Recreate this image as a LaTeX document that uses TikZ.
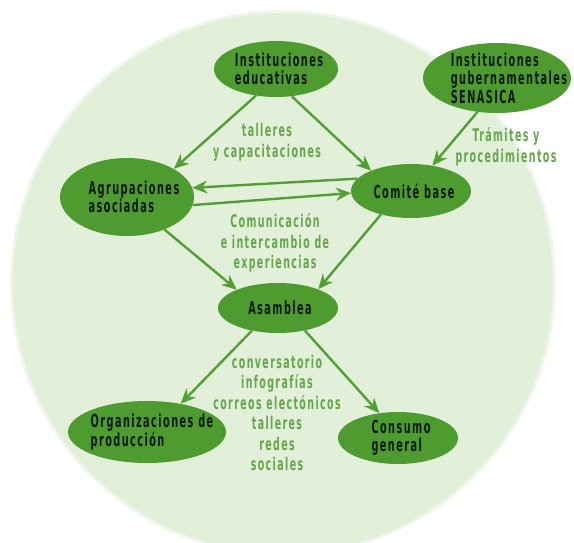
\documentclass[tikz,border=0pt]{standalone}
\usepackage{fontspec}
\usetikzlibrary{shapes.geometric,arrows.meta}
\newfontfamily\nfont{DejaVu Sans Condensed}[FakeStretch=0.6,LetterSpace=8]
\definecolor{bgc}{HTML}{E2EFD9}
\definecolor{nodec}{HTML}{4E9B2F}
\definecolor{arrc}{HTML}{52A035}
\definecolor{labc}{HTML}{66A64C}
\definecolor{txtc}{HTML}{0E1A0A}
\begin{document}
\begin{tikzpicture}[x=1pt,y=-1pt,
  blob/.style={ellipse,fill=nodec,inner sep=0},
  ntext/.style={font=\nfont\bfseries\fontsize{18}{18.5}\selectfont,text=txtc,align=left,inner sep=0},
  ltext/.style={font=\nfont\bfseries\fontsize{17.5}{20.5}\selectfont,text=labc,align=center,inner sep=0},
  arr/.style={draw=arrc,line width=2.4pt,-{Stealth[length=15pt,width=13pt,inset=5pt]}}]
\useasboundingbox (0,0) rectangle (574,543);
\fill[white] (0,0) rectangle (574,543);
\fill[bgc,opacity=0.5] (283,283) circle[radius=273pt];
\fill[bgc] (283,283) circle[radius=270pt];
% nodes
\node[blob,minimum width=124pt,minimum height=56pt] (edu) at (276,69) {};
\node[blob,minimum width=148pt,minimum height=70pt] (gov) at (497,78) {};
\node[blob,minimum width=134pt,minimum height=78pt] (agr) at (127,197) {};
\node[blob,minimum width=120pt,minimum height=54pt] (com) at (411,191) {};
\node[blob,minimum width=120pt,minimum height=50pt] (asa) at (278,308) {};
\node[blob,minimum width=158pt,minimum height=62pt] (org) at (147,432) {};
\node[blob,minimum width=120pt,minimum height=52pt] (con) at (398,438) {};
\node[ntext] (tedu) at (279,69) {Instituciones\\educativas};
\node[ntext] (tgov) at (509,78) {Instituciones\\gubernamentales\\SENASICA};
\node[ntext] (tagr) at (134,197) {Agrupaciones\\asociadas};
\node[ntext] (tcom) at (414,191) {Comité base};
\node[ntext] (tasa) at (280,308) {Asamblea};
\node[ntext] (torg) at (152,432) {Organizaciones de\\producción};
\node[ntext] (tcon) at (401,438) {Consumo\\general};
% labels
\node[ltext] (l1) at (267,142) {talleres\\y capacitaciones};
\node[ltext] (l2) at (506,147) {Trámites y\\procedimientos};
\node[ltext] (l3) at (275,243) {Comunicación\\e intercambio de\\experiencias};
\node[ltext] (l4) at (277,413) {conversatorio\\infografías\\correos electónicos\\talleres\\redes\\sociales};
% arrows
\draw[arr] (edu.233) -- (agr.31);
\draw[arr] (edu.300) -- (com.153);
\draw[arr] (gov.240) -- (com.50);
\draw[arr] (com.167) -- (agr.8);
\draw[arr] (agr.-7) -- (com.182);
\draw[arr] (agr.-41) -- (asa.156);
\draw[arr] (com.218) -- (asa.25);
\draw[arr] (asa.221) -- (org.40);
\draw[arr] (asa.320) -- (con.127);
\end{tikzpicture}
\end{document}
